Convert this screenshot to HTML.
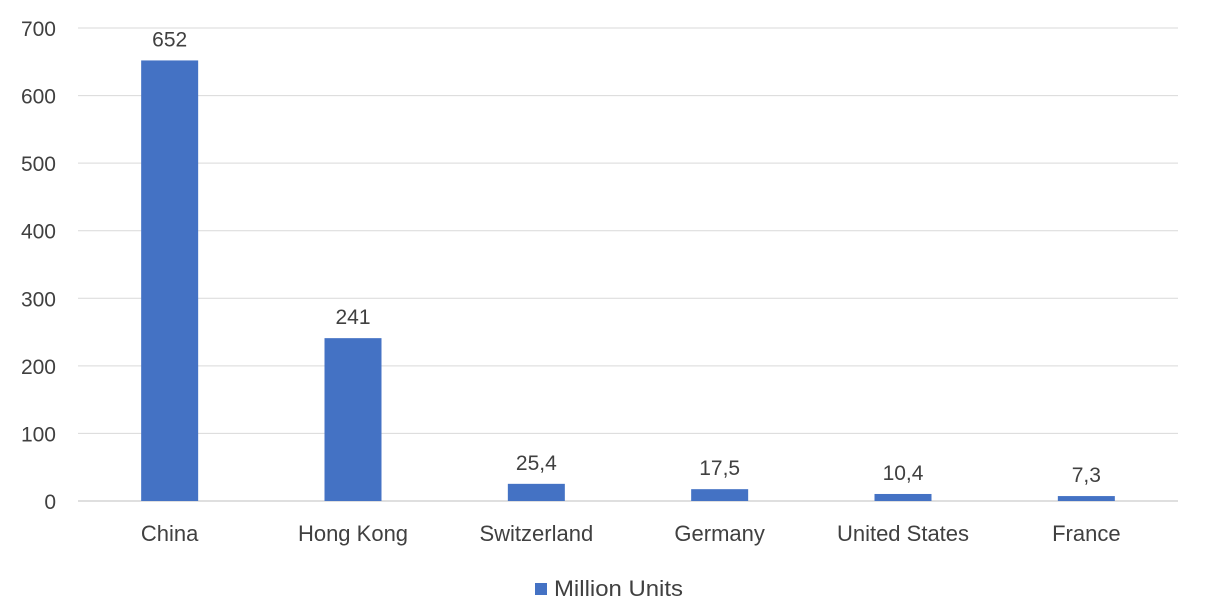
<!DOCTYPE html>
<html><head><meta charset="utf-8"><style>
body{margin:0;background:#fff;}
svg{display:block;font-family:"Liberation Sans",sans-serif;}
</style></head><body>
<svg id="chart" width="1206" height="616"></svg>
<script>
const categories=["China","Hong Kong","Switzerland","Germany","United States","France"];
const values=[652,241,25.4,17.5,10.4,7.3];
const valueLabels=["652","241","25,4","17,5","10,4","7,3"];
const yTicks=[0,100,200,300,400,500,600,700];
const NS="http://www.w3.org/2000/svg";
const svg=document.getElementById("chart");
const x0=78,x1=1178,yBase=501,yTop=28,yMax=700;
const y=v=>yBase-(v/yMax)*(yBase-yTop);
const band=(x1-x0)/categories.length;
const xc=i=>x0+band*(i+0.5);
function mk(tag,attrs){const e=document.createElementNS(NS,tag);for(const k in attrs)e.setAttribute(k,attrs[k]);svg.appendChild(e);return e;}
yTicks.forEach(t=>{
  const l=mk("line",{x1:x0,x2:x1,y1:y(t),y2:y(t),stroke:t===0?"#bfbfbf":"#d9d9d9","stroke-width":1});
  
  
  const tx=mk("text",{x:56,y:y(t)+8,"text-anchor":"end","font-size":21,fill:"#404040"});
  tx.textContent=t;
  
  
});
categories.forEach((c,i)=>{
  const w=57;
  const r=mk("rect",{x:xc(i)-w/2,y:y(values[i]),width:w,height:yBase-y(values[i]),fill:"#4472C4"});
  
  
  const v=mk("text",{x:xc(i),y:y(values[i])-14,"text-anchor":"middle","font-size":21,fill:"#404040"});
  v.textContent=valueLabels[i];
  
  
  const cl=mk("text",{x:xc(i),y:541,"text-anchor":"middle","font-size":22,fill:"#404040"});
  cl.textContent=c;
  
  
});
const ls=mk("rect",{x:535,y:583,width:12,height:12,fill:"#4472C4"});


const lt=mk("text",{x:554,y:596,"font-size":22,fill:"#404040",textLength:129,lengthAdjust:"spacingAndGlyphs"});
lt.textContent="Million Units";


</script>
</body></html>
